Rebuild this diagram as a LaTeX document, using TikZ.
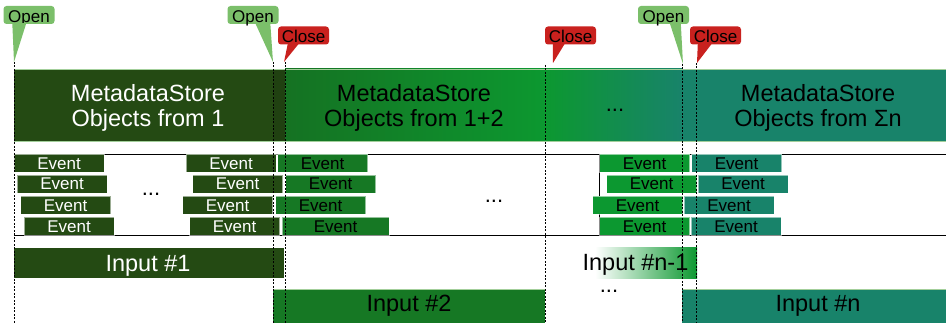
\documentclass[tikz,border=0pt]{standalone}
\usepackage{fontspec}
\setmainfont{Liberation Sans}
\usetikzlibrary{calc}
\definecolor{darkg}{HTML}{244A13}
\definecolor{midg}{HTML}{167824}
\definecolor{brightg}{HTML}{0C9830}
\definecolor{tealg}{HTML}{18836A}
\definecolor{openc}{HTML}{7BBF6A}
\definecolor{closec}{HTML}{C9211E}
\definecolor{edgec}{HTML}{A3CF9B}
\begin{document}
\begin{tikzpicture}[x=1pt,y=-1pt,
  evt/.style={minimum width=90pt, minimum height=18pt, inner sep=0pt,
    draw=white, draw opacity=0.55, line width=0.7pt,
    font=\fontsize{17}{18}\selectfont},
  bandtxt/.style={align=center, font=\fontsize{23.5}{25}\selectfont},
  inputtxt/.style={font=\fontsize{23.5}{25}\selectfont, inner sep=0pt},
  dots/.style={font=\fontsize{22}{25}\selectfont, inner sep=0pt},
  callout/.style={rounded corners=3pt, minimum width=51pt, inner xsep=0pt,
    inner ysep=0pt, text height=16.5pt, text depth=1.5pt,
    font=\fontsize{17}{18}\selectfont},
  opencall/.style={callout, fill=openc},
  closecall/.style={callout, fill=closec},
  vline/.style={draw=black, line width=0.8pt, dash pattern=on 2pt off 1.5pt},
  rule/.style={draw=black, line width=0.8pt}]
\useasboundingbox (0,0) rectangle (946,323);

% ---- MetadataStore band ----
\fill[darkg] (14,69) rectangle (273,142);
\fill[darkg!88!black] (273,69) rectangle (285,142);
\shade[left color=midg!95!black, right color=brightg] (285,69) rectangle (545,142);
\shade[left color=brightg, right color=tealg] (545,69) rectangle (682,142);
\fill[tealg] (682,69) rectangle (946,142);
\draw[edgec, line width=0.8pt] (14,69.4) -- (946,69.4) (14,141.6) -- (946,141.6);

\node[bandtxt, text=white] (ms1) at (148,108) {MetadataStore\\Objects from 1};
\node[bandtxt] (ms2) at (414,108) {MetadataStore\\Objects from 1+2};
\node[dots] (msd) at (615,110) {...};
\node[bandtxt] (msn) at (818,108) {MetadataStore\\Objects from Σn};

% ---- event area frame ----
\draw[rule] (14,154) -- (946,154) (14,235.5) -- (946,235.5);
\draw[rule] (599,154) -- (599,235.5);

% ---- events ----
\begin{scope}[every node/.style={evt, fill=darkg, text=white}]
  \node (e11) at (59,163.3) {Event};
  \node (e12) at (62,184.2) {Event};
  \node (e13) at (65.5,205.5) {Event};
  \node (e14) at (69,226.5) {Event};
  \node (e21) at (231,163.3) {Event};
  \node (e22) at (237.5,184.2) {Event};
  \node (e23) at (227.5,205.5) {Event};
  \node (e24) at (234.5,226.5) {Event};
\end{scope}
\begin{scope}[every node/.style={evt, fill=midg}]
  \node (e31) at (322.5,163.3) {Event};
  \node (e32) at (330.5,184.2) {Event};
  \node (e33) at (320.5,205.5) {Event};
  \node[minimum width=107pt] (e34) at (335.5,226.5) {Event\hspace{17pt}};
\end{scope}
\begin{scope}[every node/.style={evt, fill=brightg}]
  \node (e41) at (644.5,163.3) {Event};
  \node (e42) at (651.5,184.2) {Event};
  \node (e43) at (637.5,205.5) {Event};
  \node (e44) at (644.5,226.5) {Event};
\end{scope}
\begin{scope}[every node/.style={evt, fill=tealg}]
  \node (e51) at (736.5,163.3) {Event};
  \node (e52) at (743,184.2) {Event};
  \node (e53) at (729,205.5) {Event};
  \node (e54) at (736,226.5) {Event};
\end{scope}
\node[dots] (ed1) at (151,194) {...};
\node[dots] (ed2) at (494,201) {...};

% ---- inputs ----
\fill[darkg] (14,248) rectangle (284,278);
\node[inputtxt, text=white] (in1) at (148,265.5) {Input \#1};
\fill[midg] (273,289) rectangle (545,323);
\draw[edgec, line width=0.8pt] (273,289.4) -- (545,289.4);
\node[inputtxt] (in2) at (409,306) {Input \#2};
\shade[left color=white, right color=brightg] (595,248) rectangle (697,279);
\node[inputtxt] (inm) at (635.5,265) {Input \#n-1};
\node[dots] (ind) at (609,291) {...};
\fill[tealg] (682,289) rectangle (946,323);
\draw[edgec, line width=0.8pt] (682,289.4) -- (946,289.4);
\node[inputtxt] (inn) at (818,306) {Input \#n};

% ---- dashed boundaries ----
\foreach \nm/\xx/\yy in {a/14/62, b/273/62, c/285/62, d/545/65, e/682/64, f/696/63}{
  \coordinate (top\nm) at (\xx,\yy);
  \coordinate (bot\nm) at (\xx,323);
  \draw[vline] (top\nm) -- (bot\nm);
}

% ---- callouts ----
\node[opencall] (o1) at (29,15) {Open};
\node[opencall] (o2) at (253,15) {Open};
\node[opencall] (o3) at (663.5,15) {Open};
\node[closecall] (c1) at (303.5,35.5) {Close};
\node[closecall] (c2) at (570.5,35.5) {Close};
\node[closecall] (c3) at (715.5,35.5) {Close};
\coordinate (to1) at (14,62);
\coordinate (to2) at (273,62);
\coordinate (to3) at (683,64);
\coordinate (tc1) at (284,62);
\coordinate (tc2) at (553,63);
\coordinate (tc3) at (697,63);
\fill[openc] ($(o1.south west)+(9,-1)$) -- (to1) -- ($(o1.south west)+(23,-1)$) -- cycle;
\fill[openc] ($(o2.south west)+(28,-1)$) -- (to2) -- ($(o2.south west)+(43,-1)$) -- cycle;
\fill[openc] ($(o3.south west)+(32,-1)$) -- (to3) -- ($(o3.south west)+(43,-1)$) -- cycle;
\fill[closec] ($(c1.south west)+(10,-1)$) -- (tc1) -- ($(c1.south west)+(21,-1)$) -- cycle;
\fill[closec] ($(c2.south west)+(8,-1)$) -- (tc2) -- ($(c2.south west)+(20,-1)$) -- cycle;
\fill[closec] ($(c3.south west)+(8,-1)$) -- (tc3) -- ($(c3.south west)+(22,-1)$) -- cycle;
\end{tikzpicture}
\end{document}
